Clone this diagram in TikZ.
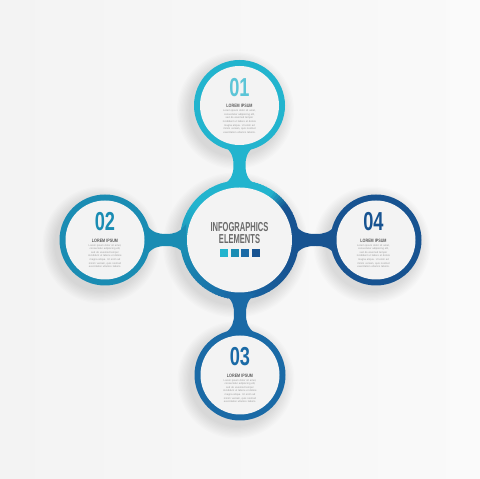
\documentclass[tikz,border=0pt]{standalone}
\usepackage{fontspec}
\setmainfont{Liberation Sans}
\usetikzlibrary{calc}
\definecolor{ccyan}{HTML}{22B4CE}
\definecolor{cteal}{HTML}{1A8CB3}
\definecolor{cblue}{HTML}{1A6AA6}
\definecolor{cdark}{HTML}{175391}
\definecolor{ncyan}{HTML}{5CC5D7}
\definecolor{bgl}{HTML}{F3F3F3}
\definecolor{bgr}{HTML}{FAFAFA}
\definecolor{innerc}{HTML}{F3F3F3}
\definecolor{txtgray}{HTML}{6A6A6A}
\definecolor{bodygray}{HTML}{9A9A9A}
\definecolor{lorgray}{HTML}{5E5E5E}
% neck: color, anchor point, rotation, length
\newcommand\neckshape[4]{%
\begin{scope}[shift={(#2)},rotate=#3]
\fill[#1] (-16,-5) .. controls (-7,2) and (-6,{#4*0.25}) .. (-6,{#4/2})
 .. controls (-6,{#4*0.75}) and (-7,{#4-2}) .. (-16,{#4+5})
 -- (16,{#4+5}) .. controls (7,{#4-2}) and (6,{#4*0.75}) .. (6,{#4/2})
 .. controls (6,{#4*0.25}) and (7,2) .. (16,-5) -- cycle;
\end{scope}}
\newcommand\numtxt[1]{\scalebox{0.7}[1]{\fontsize{26}{26}\selectfont\bfseries #1}}
\newcommand\lortxt{\scalebox{0.77}[1]{\fontsize{4.8}{5}\selectfont\bfseries LOREM IPSUM}}
\newcommand\bodytxt{Lorem ipsum dolor sit amet, consectetur adipiscing elit, sed do eiusmod tempor incididunt ut labore et dolore magna aliqua. Ut enim ad minim veniam, quis nostrud exercitation ullamco laboris.}
\begin{document}
\begin{tikzpicture}[x=1pt,y=1pt,
  ringnode/.style={circle, inner sep=0pt, minimum size=91pt},
  innernode/.style={circle, inner sep=0pt, minimum size=79pt, fill=innerc},
  body/.style={text width=38pt, align=center, inner sep=0pt, text=bodygray,
     font=\fontsize{2.6}{3.6}\selectfont},
  lor/.style={inner sep=0pt, text=lorgray},
  num/.style={inner sep=0pt},
  sq/.style={minimum size=8pt, inner sep=0pt}]
\useasboundingbox (0,0) rectangle (480,479);
\shade[left color=bgl, right color=bgr] (0,0) rectangle (480,479);
% soft shadows
\foreach \x/\y/\r in {239.5/373.5/45.5, 105/239/45.5, 376/239/45.5, 240/104/45.5, 239.5/239/59.5}{
  \foreach \k in {1,...,10}{
    \fill[black, opacity=0.011] (\x-4,\y-5) circle[radius=\r+\k*1.3];
  }
}
% circle rings
\node[ringnode, fill=ccyan] (n1) at (239.5,373.5) {};
\node[ringnode, fill=cteal] (n2) at (105,239) {};
\node[ringnode, fill=cdark] (n4) at (376,239) {};
\node[ringnode, fill=cblue] (n3) at (240,104) {};
\node[circle, inner sep=0pt, minimum size=119pt] (n0) at (239.5,239) {};
% center ring, colour blended around
\foreach \a in {0,3,...,357}{
  \ifnum\a<35 \def\cc{cdark}\else
  \ifnum\a<55 \pgfmathtruncatemacro\p{100-(\a-35)*5}\def\cc{cdark!\p!ccyan}\else
  \ifnum\a<140 \def\cc{ccyan}\else
  \ifnum\a<190 \pgfmathtruncatemacro\p{100-(\a-140)*2}\def\cc{ccyan!\p!cteal}\else
  \ifnum\a<260 \pgfmathtruncatemacro\p{100-(\a-190)*10/7}\def\cc{cteal!\p!cblue}\else
  \ifnum\a<330 \pgfmathtruncatemacro\p{100-(\a-260)*10/7}\def\cc{cblue!\p!cdark}\else
  \def\cc{cdark}\fi\fi\fi\fi\fi\fi
  \colorlet{segc}{\cc}
  \fill[segc] (n0.center) -- ++(\a:59.5) arc[start angle=\a, end angle=\a+3.6, radius=59.5] -- cycle;
}
% necks
\neckshape{ccyan}{n0.north}{0}{30}
\neckshape{cblue}{n3.north}{0}{31}
\neckshape{cteal}{n2.east}{-90}{30.5}
\neckshape{cdark}{n0.east}{-90}{32.5}
% inner discs
\node[innernode] at (n1) {};
\node[innernode] at (n2) {};
\node[innernode] at (n3) {};
\node[innernode] at (n4) {};
\node[innernode, minimum size=105pt] at (n0) {};
% texts 01
\node[num, text=ncyan] (t1) at ($(n1)+(0,18)$) {\numtxt{01}};
\node[lor] (l1) at ($(n1)+(0,-0.5)$) {\lortxt};
\node[body] (b1) at ($(n1)+(0,-16)$) {\bodytxt};
% 02
\node[num, text=cteal] (t2) at ($(n2)+(0,18)$) {\numtxt{02}};
\node[lor] (l2) at ($(n2)+(0,-0.5)$) {\lortxt};
\node[body] (b2) at ($(n2)+(0,-16)$) {\bodytxt};
% 03
\node[num, text=cblue] (t3) at ($(n3)+(0,18)$) {\numtxt{03}};
\node[lor] (l3) at ($(n3)+(0,-0.5)$) {\lortxt};
\node[body] (b3) at ($(n3)+(0,-16)$) {\bodytxt};
% 04
\node[num, text=cdark] (t4) at ($(n4)+(-2.5,18)$) {\numtxt{04}};
\node[lor] (l4) at ($(n4)+(-2.5,-0.5)$) {\lortxt};
\node[body] (b4) at ($(n4)+(-2.5,-16)$) {\bodytxt};
% centre
\node[inner sep=0pt, text=txtgray] (h1) at (239.5,251.5) {\scalebox{0.58}[1]{\fontsize{13}{13}\selectfont\bfseries INFOGRAPHICS}};
\node[inner sep=0pt, text=txtgray] (h2) at (239.5,239.5) {\scalebox{0.58}[1]{\fontsize{13}{13}\selectfont\bfseries ELEMENTS}};
\node[sq, fill=ccyan] (s1) at (224,226) {};
\node[sq, fill=cteal] (s2) at (234.7,226) {};
\node[sq, fill=cblue] (s3) at (245.3,226) {};
\node[sq, fill=cdark] (s4) at (256,226) {};
\end{tikzpicture}
\end{document}
